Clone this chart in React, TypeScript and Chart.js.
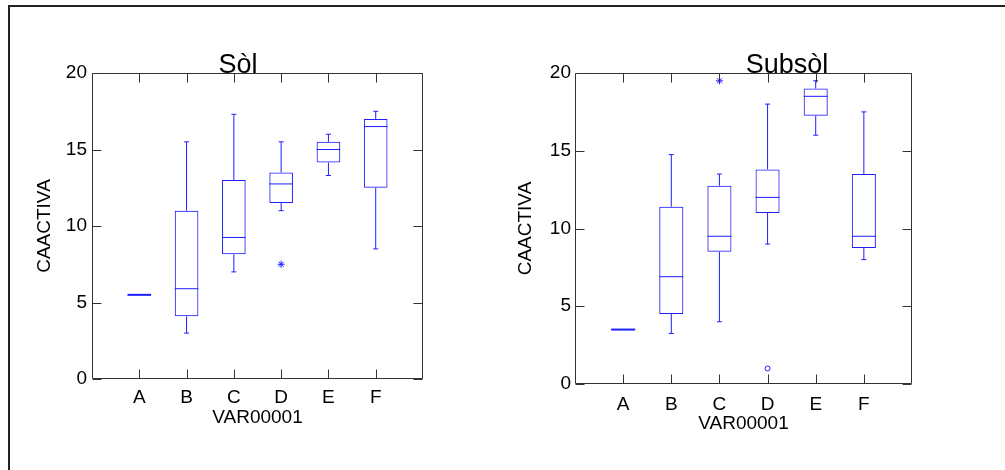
import React, { useEffect, useRef } from 'react';
import { Chart, registerables } from 'chart.js';

Chart.register(...registerables);

// ---------- data ----------
const categories = ['A', 'B', 'C', 'D', 'E', 'F'];
const yTicks = [0, 5, 10, 15, 20];

const solTitle = 'Sòl';
const solLow = [5.5, 3.0, 7.0, 11.0, 13.3, 8.5];
const solQ1 = [5.5, 4.1, 8.15, 11.5, 14.15, 12.5];
const solMedian = [5.5, 5.9, 9.25, 12.75, 15.0, 16.5];
const solQ3 = [5.5, 11.0, 13.0, 13.5, 15.5, 17.0];
const solHigh = [5.5, 15.5, 17.3, 15.5, 16.0, 17.5];
const solExtremes: (number | null)[] = [null, null, null, 7.5, null, null];
const solOutliers: (number | null)[] = [null, null, null, null, null, null];

const subTitle = 'Subsòl';
const subLow = [3.5, 3.25, 4.0, 9.0, 16.0, 8.0];
const subQ1 = [3.5, 4.5, 8.5, 11.0, 17.25, 8.75];
const subMedian = [3.5, 6.9, 9.5, 12.0, 18.5, 9.5];
const subQ3 = [3.5, 11.4, 12.75, 13.8, 19.0, 13.5];
const subHigh = [3.5, 14.75, 13.5, 18.0, 19.5, 17.5];
const subExtremes: (number | null)[] = [null, null, 19.5, null, null, null];
const subOutliers: (number | null)[] = [null, null, null, 1.0, null, null];

const xTitle = 'VAR00001';
const yTitle = 'CAACTIVA';

// ---------- styles ----------
const BLUE = 'rgb(30,30,255)';
const AXIS = '#333333';
const FONT = "'Liberation Sans', Arial, sans-serif";

Chart.defaults.font.family = FONT;
Chart.defaults.color = '#000';

type BoxSet = {
  low: number[];
  q1: number[];
  median: number[];
  q3: number[];
  high: number[];
  extremes: (number | null)[];
  outliers: (number | null)[];
};

type Layout = {
  width: number;
  height: number;
  padding: { left: number; right: number; top: number; bottom: number };
  yWidth: number;
  xHeight: number;
  xTickPad: number;
  xTitlePadBottom: number;
  yTickPad: number;
  yTitlePadTop: number;
  titleShift: number;
};

function pad<T>(arr: T[]): (T | null)[] {
  return [null, ...arr, null];
}

function makePlugin(title: string, titleShift: number, b: BoxSet) {
  return {
    id: 'boxExtras',
    afterDatasetsDraw(chart: any) {
      const { ctx } = chart;
      const y = chart.scales.y;
      const meta = chart.getDatasetMeta(0);
      ctx.save();
      b.median.forEach((m: number, i: number) => {
        const el: any = meta.data[i + 1];
        if (!el) return;
        const cx = el.x;
        const half = el.width / 2;
        const yHigh = y.getPixelForValue(b.high[i]);
        const yLow = y.getPixelForValue(b.low[i]);
        const yQ3 = y.getPixelForValue(b.q3[i]);
        const yQ1 = y.getPixelForValue(b.q1[i]);
        const yMed = y.getPixelForValue(m);
        const flat = b.q1[i] === b.q3[i];
        ctx.strokeStyle = BLUE;
        ctx.lineWidth = 1;
        ctx.beginPath();
        ctx.moveTo(cx, yQ3);
        ctx.lineTo(cx, yHigh);
        ctx.moveTo(cx, yQ1);
        ctx.lineTo(cx, yLow);
        if (b.high[i] !== b.q3[i]) {
          ctx.moveTo(cx - 2.5, yHigh);
          ctx.lineTo(cx + 2.5, yHigh);
        }
        if (b.low[i] !== b.q1[i]) {
          ctx.moveTo(cx - 2.5, yLow);
          ctx.lineTo(cx + 2.5, yLow);
        }
        ctx.stroke();
        ctx.beginPath();
        ctx.lineWidth = flat ? 2 : 1;
        ctx.moveTo(el.x - half, yMed);
        ctx.lineTo(el.x + half, yMed);
        ctx.stroke();
      });
      ctx.restore();
    },
    afterDraw(chart: any) {
      const { ctx, chartArea: a } = chart;
      const x = chart.scales.x;
      const y = chart.scales.y;
      const x0 = Math.round(a.left) + 0.5;
      const x1 = Math.round(a.right) - 0.5;
      const y0 = Math.round(a.top) + 0.5;
      const y1 = Math.round(a.bottom) - 0.5;
      ctx.save();
      ctx.strokeStyle = AXIS;
      ctx.lineWidth = 1;
      ctx.beginPath();
      ctx.rect(x0, y0, x1 - x0, y1 - y0);
      const tl = 9;
      categories.forEach((_c, i) => {
        const px = Math.round(x.getPixelForTick(i + 1)) + 0.5;
        ctx.moveTo(px, y1);
        ctx.lineTo(px, y1 - tl);
        ctx.moveTo(px, y0);
        ctx.lineTo(px, y0 + tl);
      });
      yTicks.forEach((v) => {
        const py = Math.round(y.getPixelForValue(v)) + 0.5;
        ctx.moveTo(x0, py);
        ctx.lineTo(x0 + tl, py);
        ctx.moveTo(x1, py);
        ctx.lineTo(x1 - tl, py);
      });
      ctx.stroke();
      ctx.fillStyle = '#000';
      ctx.font = `27px ${FONT}`;
      ctx.textAlign = 'center';
      ctx.textBaseline = 'alphabetic';
      ctx.fillText(title, (a.left + a.right) / 2 + titleShift, a.top);
      ctx.restore();
    },
  };
}

function makeConfig(title: string, b: BoxSet, L: Layout): any {
  const labels = pad(categories).map((c) => (c === null ? '' : c));
  return {
    type: 'bar',
    data: {
      labels,
      datasets: [
        {
          type: 'bar',
          data: pad(b.q1.map((v, i) => [v, b.q3[i]])),
          backgroundColor: 'rgba(0,0,0,0)',
          borderColor: BLUE,
          borderWidth: 1,
          borderSkipped: false,
          barPercentage: 0.5,
          categoryPercentage: 1,
          inflateAmount: 0,
        },
        {
          type: 'line',
          data: pad(b.extremes),
          showLine: false,
          pointStyle: 'star',
          pointRadius: 3.5,
          pointHoverRadius: 3.5,
          borderColor: BLUE,
          backgroundColor: BLUE,
          borderWidth: 1,
        },
        {
          type: 'line',
          data: pad(b.outliers),
          showLine: false,
          pointStyle: 'circle',
          pointRadius: 2.5,
          pointHoverRadius: 2.5,
          borderColor: BLUE,
          backgroundColor: '#ffffff',
          borderWidth: 1,
        },
      ],
    },
    options: {
      responsive: false,
      animation: false,
      events: [],
      layout: { padding: L.padding },
      plugins: {
        legend: { display: false },
        tooltip: { enabled: false },
        title: { display: false },
      },
      scales: {
        x: {
          type: 'category',
          offset: false,
          grid: { display: false, drawTicks: false },
          border: { display: false },
          ticks: {
            padding: L.xTickPad,
            autoSkip: false,
            maxRotation: 0,
            minRotation: 0,
            color: '#000',
            font: { size: 19, family: FONT },
          },
          title: {
            display: true,
            text: xTitle,
            color: '#000',
            font: { size: 19, family: FONT },
            padding: { top: 0, bottom: L.xTitlePadBottom },
          },
          afterFit: (s: any) => {
            s.height = L.xHeight;
          },
        },
        y: {
          type: 'linear',
          min: 0,
          max: 20,
          afterBuildTicks: (s: any) => {
            s.ticks = yTicks.map((v) => ({ value: v }));
          },
          grid: { display: false, drawTicks: false },
          border: { display: false },
          ticks: {
            padding: L.yTickPad,
            color: '#000',
            font: { size: 19, family: FONT },
          },
          title: {
            display: true,
            text: yTitle,
            color: '#000',
            font: { size: 19, family: FONT },
            padding: { top: L.yTitlePadTop, bottom: 0 },
          },
          afterFit: (s: any) => {
            s.width = L.yWidth;
          },
        },
      },
    },
    plugins: [makePlugin(title, L.titleShift, b)],
  };
}

const solLayout: Layout = {
  width: 414,
  height: 400,
  padding: { left: 2, right: 21, top: 33, bottom: 1 },
  yWidth: 60,
  xHeight: 60,
  xTickPad: 7,
  xTitlePadBottom: 10,
  yTickPad: 5,
  yTitlePadTop: 1,
  titleShift: -19.5,
};

const subLayout: Layout = {
  width: 421,
  height: 405,
  padding: { left: 2, right: 21, top: 33, bottom: 1 },
  yWidth: 61,
  xHeight: 60,
  xTickPad: 9,
  xTitlePadBottom: 9,
  yTickPad: 4,
  yTitlePadTop: 0,
  titleShift: 43.5,
};

export default function App() {
  const leftRef = useRef<HTMLCanvasElement | null>(null);
  const rightRef = useRef<HTMLCanvasElement | null>(null);

  useEffect(() => {
    const solSet: BoxSet = {
      low: solLow, q1: solQ1, median: solMedian, q3: solQ3, high: solHigh,
      extremes: solExtremes, outliers: solOutliers,
    };
    const subSet: BoxSet = {
      low: subLow, q1: subQ1, median: subMedian, q3: subQ3, high: subHigh,
      extremes: subExtremes, outliers: subOutliers,
    };
    const c1 = new Chart(leftRef.current as HTMLCanvasElement, makeConfig(solTitle, solSet, solLayout));
    const c2 = new Chart(rightRef.current as HTMLCanvasElement, makeConfig(subTitle, subSet, subLayout));
    return () => {
      c1.destroy();
      c2.destroy();
    };
  }, []);

  return (
    <div
      style={{
        position: 'absolute',
        left: 0,
        top: 0,
        width: 1005,
        height: 470,
        overflow: 'hidden',
        background: '#fff',
      }}
    >
      <div
        style={{
          position: 'absolute',
          left: 8,
          top: 5,
          width: 1100,
          height: 600,
          borderLeft: '2px solid #222',
          borderTop: '2px solid #222',
          boxSizing: 'border-box',
        }}
      />
      <canvas
        ref={leftRef}
        width={solLayout.width}
        height={solLayout.height}
        style={{ position: 'absolute', left: 30, top: 40, width: solLayout.width, height: solLayout.height }}
      />
      <canvas
        ref={rightRef}
        width={subLayout.width}
        height={subLayout.height}
        style={{ position: 'absolute', left: 512, top: 40, width: subLayout.width, height: subLayout.height }}
      />
    </div>
  );
}
